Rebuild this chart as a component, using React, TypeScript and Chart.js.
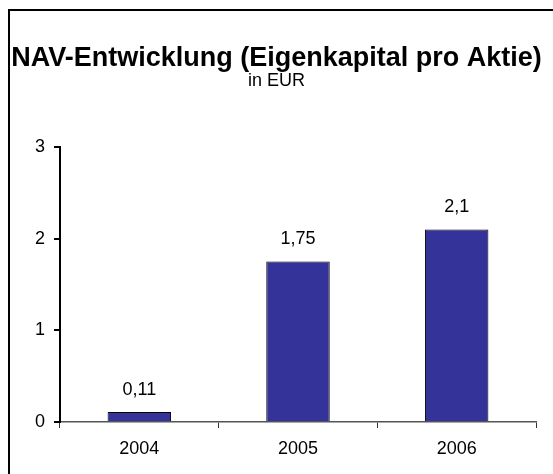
import React, { useEffect, useRef } from "react";
import { Chart, registerables } from "chart.js";

Chart.register(...registerables);

const categories = ["2004", "2005", "2006"];
const navValues = [0.11, 1.75, 2.1];
const valueLabels = ["0,11", "1,75", "2,1"];
const titleText = "NAV-Entwicklung (Eigenkapital pro Aktie)";
const subtitleText = "in EUR";
const yTicks = [0, 1, 2, 3];

const FONT = "'Liberation Sans', Arial, Helvetica, sans-serif";

const framePlugin = {
  id: "frame",
  beforeDraw(chart: any) {
    const ctx = chart.ctx;
    ctx.save();
    ctx.fillStyle = "#ffffff";
    ctx.fillRect(0, 0, chart.width, chart.height);
    ctx.fillStyle = "#000000";
    ctx.fillRect(8, 9, chart.width - 8, 2);
    ctx.fillRect(8, 9, 2, chart.height - 9);
    ctx.restore();
  },
};

const valueLabelPlugin = {
  id: "valueLabels",
  afterDatasetsDraw(chart: any) {
    const ctx = chart.ctx;
    const meta = chart.getDatasetMeta(0);
    ctx.save();
    ctx.font = `18px ${FONT}`;
    ctx.fillStyle = "#000000";
    ctx.textAlign = "center";
    ctx.textBaseline = "middle";
    meta.data.forEach((bar: any, i: number) => {
      ctx.fillText(valueLabels[i], bar.x, bar.y - 22);
    });
    ctx.restore();
  },
};

export default function App() {
  const ref = useRef<HTMLCanvasElement | null>(null);

  useEffect(() => {
    if (!ref.current) return;
    const chart = new Chart(ref.current, {
      type: "bar",
      data: {
        labels: categories,
        datasets: [
          {
            label: "NAV",
            data: navValues,
            backgroundColor: "#333399",
            borderColor: "#000000",
            borderWidth: 1,
            barPercentage: 0.4,
            categoryPercentage: 1,
            yAxisID: "y",
          },
        ],
      },
      options: {
        responsive: false,
        animation: false,
        layout: { padding: { left: 0, right: 0, top: 0, bottom: 0 } },
        plugins: {
          legend: { display: false },
          tooltip: { enabled: false },
          title: {
            display: true,
            text: titleText,
            color: "#000000",
            font: { family: FONT, size: 27, weight: "bold", lineHeight: 0.9 },
            padding: { top: 46, bottom: 0 },
          },
          subtitle: {
            display: true,
            text: subtitleText,
            color: "#000000",
            font: { family: FONT, size: 18, lineHeight: 1.2 },
            padding: { top: 0, bottom: 55 },
          },
        },
        scales: {
          x: {
            offset: true,
            grid: {
              display: true,
              offset: true,
              drawOnChartArea: false,
              drawTicks: true,
              tickLength: 6,
              color: "#333333",
              lineWidth: 1,
            },
            border: { display: true, color: "#555555", width: 1.5 },
            ticks: {
              color: "#000000",
              font: { family: FONT, size: 18 },
              padding: 10,
            },
            afterFit(scale: any) {
              scale.height = 52;
            },
          },
          y: {
            min: 0,
            max: 3,
            grid: {
              display: true,
              drawOnChartArea: false,
              drawTicks: true,
              tickLength: 6,
              color: "#000000",
              lineWidth: 2,
            },
            border: { display: true, color: "#000000", width: 2 },
            afterBuildTicks(scale: any) {
              scale.ticks = yTicks.map((v) => ({ value: v }));
            },
            ticks: {
              color: "#000000",
              font: { family: FONT, size: 18 },
              padding: 9,
              callback: (v: any) => String(v),
            },
            afterFit(scale: any) {
              scale.width = 60;
            },
          },
          spacer: {
            type: "linear",
            position: "right",
            display: true,
            grid: { display: false, drawTicks: false },
            border: { display: false },
            ticks: { display: false },
            afterFit(scale: any) {
              scale.width = 17;
            },
          },
        },
      },
      plugins: [framePlugin, valueLabelPlugin],
    });
    return () => chart.destroy();
  }, []);

  return (
    <div style={{ position: "absolute", left: 0, top: 0, width: 553, height: 474 }}>
      <canvas ref={ref} width={553} height={474} style={{ display: "block" }} />
    </div>
  );
}
